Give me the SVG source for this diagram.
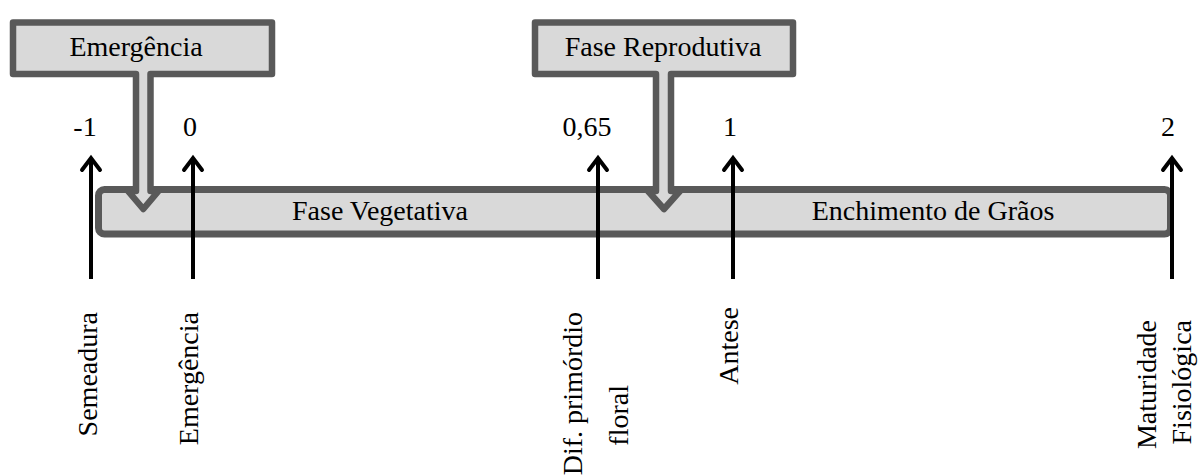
<svg xmlns="http://www.w3.org/2000/svg" width="1200" height="476" viewBox="0 0 1200 476">
<style>
text{font-family:"Liberation Serif","Times New Roman",serif;font-size:28px;fill:#000}
.shape{fill:#d9d9d9;stroke:#595959;stroke-width:6.5;stroke-linejoin:round}
.bar{fill:#d9d9d9;stroke:#595959;stroke-width:7}
.arr{stroke:#000;stroke-width:4;fill:none}
.head{stroke:#000;stroke-width:4;fill:none;stroke-linecap:round;stroke-linejoin:miter}
</style>
<rect width="1200" height="476" fill="#fff"/>
<g id="bar-phases">
<rect class="bar" x="98.5" y="189.5" width="1072" height="44.5" rx="6"/>
<text x="380" y="220" text-anchor="middle">Fase Vegetativa</text>
<text x="933" y="220" text-anchor="middle">Enchimento de Grãos</text>
</g>
<g id="callout-emergencia">
<path class="shape" d="M13,22.5 H272 V74 H150.5 V191 H158.5 L143.3,209 L128,191 H136 V74 H13 Z"/>
<text x="136" y="56" text-anchor="middle">Emergência</text>
</g>
<g id="callout-reprodutiva">
<path class="shape" d="M535,22.5 H793 V74 H671 V191 H680 L664,209 L648,191 H656 V74 H535 Z"/>
<text x="663" y="56" text-anchor="middle">Fase Reprodutiva</text>
</g>
<g id="connectors">
<g>
<line class="arr" x1="91" y1="158" x2="91" y2="279"/>
<polyline class="head" points="82,170 91,158 100,170"/>
</g>
<g>
<line class="arr" x1="193" y1="158" x2="193" y2="279"/>
<polyline class="head" points="184,170 193,158 202,170"/>
</g>
<g>
<line class="arr" x1="598" y1="158" x2="598" y2="279"/>
<polyline class="head" points="589,170 598,158 607,170"/>
</g>
<g>
<line class="arr" x1="733" y1="158" x2="733" y2="279"/>
<polyline class="head" points="724,170 733,158 742,170"/>
</g>
<g>
<line class="arr" x1="1172" y1="158" x2="1172" y2="279"/>
<polyline class="head" points="1163,170 1172,158 1181,170"/>
</g>
</g>
<g id="values">
<text x="85" y="136" text-anchor="middle">-1</text>
<text x="190" y="136" text-anchor="middle">0</text>
<text x="587" y="136" text-anchor="middle">0,65</text>
<text x="730" y="136" text-anchor="middle">1</text>
<text x="1168" y="136" text-anchor="middle">2</text>
</g>
<g id="labels">
<text transform="translate(97,312) rotate(-90)" text-anchor="end">Semeadura</text>
<text transform="translate(198,312) rotate(-90)" text-anchor="end">Emergência</text>
<text transform="translate(582,312) rotate(-90)" text-anchor="end">Dif. primórdio</text>
<text transform="translate(628,385) rotate(-90)" text-anchor="end">floral</text>
<text transform="translate(738,307) rotate(-90)" text-anchor="end">Antese</text>
<text transform="translate(1156,320) rotate(-90)" text-anchor="end">Maturidade</text>
<text transform="translate(1191,320) rotate(-90)" text-anchor="end">Fisiológica</text>
</g>
</svg>
